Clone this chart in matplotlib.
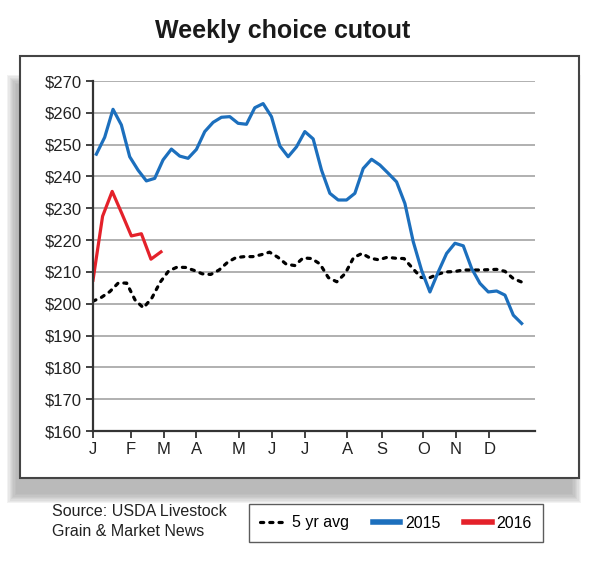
import matplotlib
matplotlib.use("Agg")
import matplotlib.pyplot as plt
from matplotlib.patches import Rectangle
import numpy as np

plt.rcParams['font.family'] = ['Liberation Sans Narrow', 'Liberation Sans', 'DejaVu Sans']

# month ticks (position in weeks from Jan 1)
month_labels = ["J", "F", "M", "A", "M", "J", "J", "A", "S", "O", "N", "D"]
month_pos = [0, 4.56, 8.52, 12.36, 17.5, 21.5, 25.4, 30.5, 34.6, 39.6, 43.5, 47.5]

# 2015 weekly cutout
weeks_2015 = [0.4 + i for i in range(52)]
cutout_2015 = [247.0, 252.3, 261.1, 256.2, 246.2, 242.0, 238.6, 239.4, 245.2, 248.6,
               246.4, 245.7, 248.5, 254.1, 257.0, 258.6, 258.8, 256.7, 256.4, 261.6,
               262.9, 258.8, 249.6, 246.2, 249.3, 254.1, 251.8, 242.0, 234.7, 232.6,
               232.6, 234.7, 242.5, 245.4, 243.6, 241.0, 238.3, 231.5, 219.5, 210.5,
               203.7, 210.0, 215.8, 219.0, 218.2, 211.1, 206.4, 203.7, 204.0, 202.7,
               196.4, 193.8]

# 2016 so far
weeks_2016 = [0, 1.15, 2.3, 3.45, 4.6, 5.8, 6.95, 8.15]
cutout_2016 = [207.4, 227.5, 235.3, 228.4, 221.3, 222.0, 214.0, 216.3]

# 5 year average
weeks_avg = [i * 1.008 for i in range(52)]
cutout_avg = [200.8, 202.0, 203.8, 206.5, 206.5, 201.2, 198.7, 201.8, 206.8, 210.3,
              211.5, 211.4, 210.5, 209.4, 209.2, 210.6, 213.0, 214.5, 214.8, 214.8,
              215.4, 216.2, 214.6, 212.4, 212.0, 214.4, 214.2, 212.5, 208.2, 206.9,
              209.5, 214.5, 215.8, 214.3, 213.8, 214.6, 214.3, 214.2, 211.2, 208.3,
              208.1, 209.3, 210.0, 210.1, 210.6, 210.6, 210.6, 210.7, 210.8, 210.2,
              207.9, 206.8]

W, H = 610, 571
fig = plt.figure(figsize=(W / 100, H / 100), dpi=100)

# shadow behind the frame (fake blur)
for k in range(8):
    pad = k * 1.3
    fig.patches.append(Rectangle(((16 - pad) / W, 1 - (494 + pad) / H),
                                 (556 + 2 * pad) / W, (410 + 2 * pad) / H,
                                 transform=fig.transFigure, facecolor="#9a9a9a",
                                 edgecolor="none", alpha=0.12, zorder=0))
fig.patches.append(Rectangle((20 / W, 1 - 478 / H), 559 / W, 422 / H,
                             transform=fig.transFigure, facecolor="white",
                             edgecolor="#444444", linewidth=1.5, zorder=1))

ax = fig.add_axes([93 / W, (H - 431) / H, (535 - 93) / W, (431 - 81) / H])
ax.set_zorder(2)
ax.patch.set_alpha(0)

l_avg, = ax.plot(weeks_avg, cutout_avg, color="black", lw=2.3,
                 linestyle=(0, (1.0, 1.9)), dash_capstyle="round", label="5 yr avg")
l15, = ax.plot(weeks_2015, cutout_2015, color="#1c6fbd", lw=2.3, label="2015")
l16, = ax.plot(weeks_2016, cutout_2016, color="#e4212a", lw=2.3, label="2016")

ax.set_xlim(0, 53)
ax.set_ylim(160, 270)
yt = np.arange(160, 271, 10)
ax.set_yticks(yt)
ax.set_yticklabels([f"${v}" for v in yt])
ax.set_xticks(month_pos)
ax.set_xticklabels(month_labels)
ax.grid(axis="y", color="#aaaaaa", lw=1.3, zorder=0)
ax.set_axisbelow(True)
for s in ["top", "right"]:
    ax.spines[s].set_visible(False)
for s in ["left", "bottom"]:
    ax.spines[s].set_color("#333333")
    ax.spines[s].set_linewidth(1.6)
ax.tick_params(axis="both", colors="#333333", width=1.3, length=5,
               labelsize=12, labelcolor="#222222", pad=3)

fig.text(283 / W, 1 - 31 / H, "Weekly choice cutout", ha="center", va="center",
         fontsize=18, fontweight="bold", color="#1a1a1a")

fig.text(52 / W, 1 - 512 / H, "Source: USDA Livestock", ha="left", va="center",
         fontsize=11.5, color="#222222")
fig.text(52 / W, 1 - 532 / H, "Grain & Market News", ha="left", va="center",
         fontsize=11.5, color="#222222")

leg = fig.legend(handles=[l_avg, l15, l16], loc="center", ncol=3,
                 bbox_to_anchor=(396 / W, 1 - 523 / H), fontsize=11.5,
                 frameon=True, fancybox=False, edgecolor="#333333",
                 handlelength=1.7, handletextpad=0.3, columnspacing=1.5,
                 borderpad=0.7)
leg.get_frame().set_linewidth(1.0)
for h in leg.legend_handles:
    if h.get_label() != "5 yr avg":
        h.set_linewidth(4)

fig.savefig("out.png", dpi=100)
